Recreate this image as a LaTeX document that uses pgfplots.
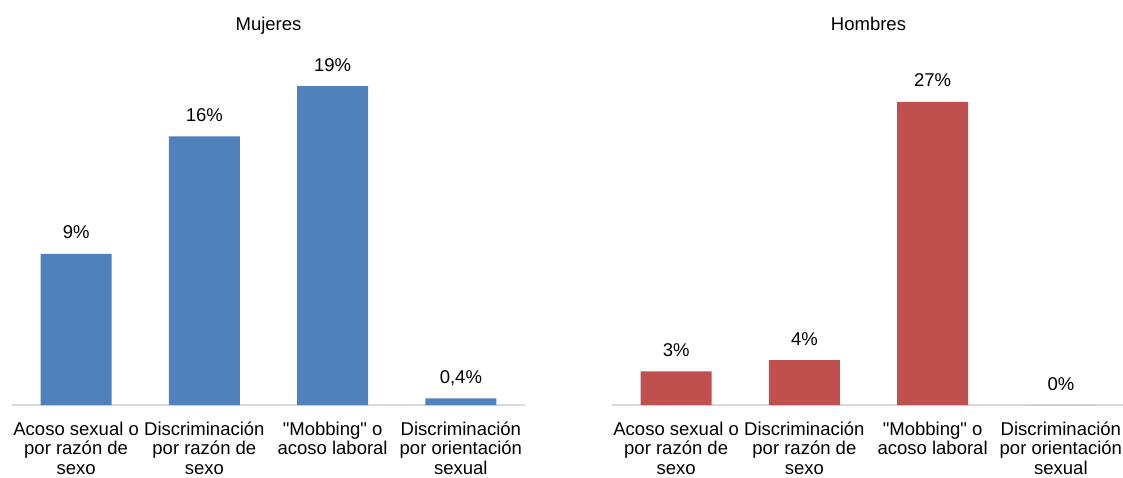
\documentclass[border=0pt]{standalone}
\usepackage{fontspec}
\setmainfont{Liberation Sans}[Ligatures=TeXOff]
\usepackage{pgfplots}
\pgfplotsset{compat=1.18}

\definecolor{barblue}{HTML}{4F81BD}
\definecolor{barred}{HTML}{C0504D}
\definecolor{axgray}{HTML}{D9D9D9}
\newcommand{\lbl}{\fontsize{9.25}{9.75}\selectfont}
\newcommand{\st}{\rule{0pt}{10pt}}

\pgfplotsset{
  panel/.style={
    scale only axis, width=256.5pt, height=172.5pt,
    anchor=south west,
    ybar, bar width=35.5pt,
    xmin=-0.5, xmax=3.5, ymin=0,
    hide y axis,
    axis x line*=bottom,
    x axis line style={axgray, line width=0.6pt, -},
    xtick={0,1,2,3}, xtick style={draw=none}, major tick length=0pt,
    xticklabels={\st Acoso sexual o\\por razón de\\sexo, \st Discriminación\\por razón de\\sexo, \st"Mobbing" o\\acoso laboral, \st Discriminación\\por orientación\\sexual},
    xticklabel style={align=center, font=\lbl, anchor=north, yshift=-5pt, inner sep=0pt},
    point meta=explicit symbolic,
    nodes near coords,
    every node near coord/.append style={anchor=base, yshift=7.5pt, font=\lbl, text=black, inner sep=0pt},
    title style={at={(0.5,1)}, anchor=base, yshift=8.5pt, font=\lbl},
  }
}

\begin{document}
\begin{tikzpicture}
\begin{axis}[panel, at={(6pt,36pt)}, ymax=20.55, title={Mujeres}]
\addplot[fill=barblue, draw=none] coordinates {(0,9) [9\%] (1,16) [16\%] (2,19) [19\%] (3,0.4) [0,4\%]};
\end{axis}
\begin{axis}[panel, at={(306pt,36pt)}, ymax=30.74, title={Hombres}]
\addplot[fill=barred, draw=none] coordinates {(0,3) [3\%] (1,4) [4\%] (2,27) [27\%] (3,0) [0\%]};
\end{axis}
\pgfresetboundingbox
\path[use as bounding box] (0,0) rectangle (561.5pt,238.5pt);
\end{tikzpicture}
\end{document}
